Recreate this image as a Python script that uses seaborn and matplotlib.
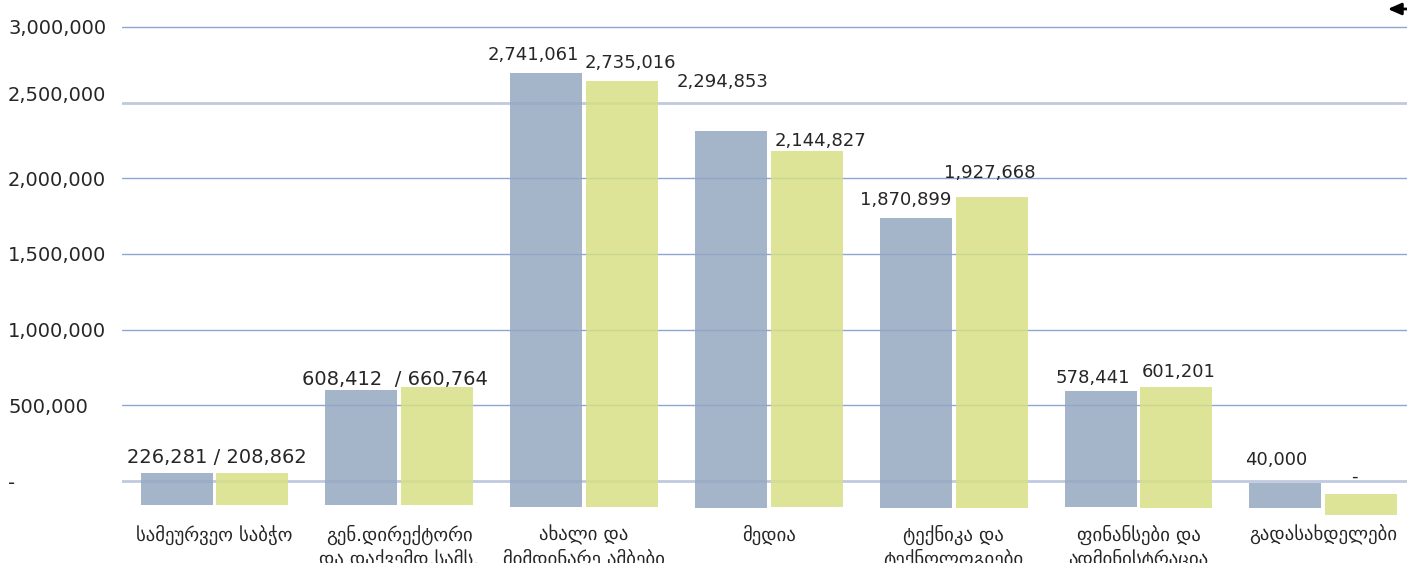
import matplotlib
matplotlib.use("Agg")
import matplotlib.pyplot as plt
import matplotlib.transforms as mtransforms
import pandas as pd
import seaborn as sns

# categorias (eje x)
categorias = [
    "სამეურვეო საბჭო",
    "გენ.დირექტორი\nდა დაქვემდ.სამს.",
    "ახალი და\nმიმდინარე ამბები",
    "მედია",
    "ტექნიკა და\nტექნოლოგიები",
    "ფინანსები და\nადმინისტრაცია",
    "გადასახდელები",
]

# valores de las etiquetas
valores_a = [226281, 608412, 2741061, 2294853, 1870899, 578441, 40000]
valores_b = [208862, 660764, 2735016, 2144827, 1927668, 601201, 0]

# altura visible de cada barra y su base
tope_a = [55000, 601000, 2698000, 2315000, 1738000, 595000, -13000]
tope_b = [55000, 621000, 2643000, 2182000, 1877000, 621000, -86000]
base_a = [-157000, -159000, -170000, -176000, -176000, -170000, -176000]
base_b = [-157000, -159000, -170000, -170000, -176000, -176000, -225000]

ticks_y = [0, 500000, 1000000, 1500000, 2000000, 2500000, 3000000]

# desplazamientos de etiquetas (pixeles: dx, dy sobre el tope de la barra)
offs_a = [None, None, (-13, 18), (-8, 49), (-10, 18), (-8, 13), (-9, 23)]
offs_b = [None, None, (8, 18), (14, 10), (-2, 24), (2, 15), (-7, 17)]
offs_par = [(2, 15), (-4, 8)]

COLOR_A = "#94a8c1"
COLOR_B = "#d7e085"

sns.set_style("white")
plt.rcParams["font.family"] = ["DejaVu Sans"]

df = pd.DataFrame({
    "categoria": categorias * 2,
    "serie": ["a"] * len(categorias) + ["b"] * len(categorias),
    "valor": tope_a + tope_b,
})

fig = plt.figure(figsize=(14.07, 5.63), dpi=100)
ax = fig.add_axes([122 / 1407, 0, 1285 / 1407, 1])

sns.barplot(
    data=df, x="categoria", y="valor", hue="serie",
    palette=[COLOR_A, COLOR_B], width=0.82, gap=0.05, saturation=1,
    legend=False, ax=ax, alpha=0.85, linewidth=0,
)

# mover la base de cada barra
for cont, tops, bases in zip(ax.containers, [tope_a, tope_b], [base_a, base_b]):
    for rect, t, b in zip(cont.patches, tops, bases):
        rect.set_y(b)
        rect.set_height(t - b)

ax.set_ylim(-541800, 3178300)
ax.set_xlim(-0.5, 6.453)

# grid
ax.set_yticks(ticks_y)
ax.set_yticklabels(["-"] + [f"{v:,}" for v in ticks_y[1:]])
ax.yaxis.grid(True, color="#8ea4d2", linewidth=1.0)
ax.set_axisbelow(True)
for v, line in zip(ticks_y, ax.get_ygridlines()):
    if v in (0, 2500000):
        line.set_color("#c0cade")
        line.set_linewidth(2.0)

ax.tick_params(axis="y", length=0, pad=82, labelsize=14)
for lab in ax.get_yticklabels():
    lab.set_horizontalalignment("left")
ax.get_yticklabels()[5].set_transform(
    ax.get_yticklabels()[5].get_transform()
    + mtransforms.ScaledTranslation(0, 9 / 100, fig.dpi_scale_trans)
)
ax.set_xticks([])
ax.set_xlabel("")
ax.set_ylabel("")
sns.despine(ax=ax, left=True, bottom=True)

# etiquetas de valores
bars_a = ax.containers[0].patches
bars_b = ax.containers[1].patches
for i in range(len(categorias)):
    ra, rb = bars_a[i], bars_b[i]
    if offs_a[i] is None:
        cx = (ra.get_x() + rb.get_x() + rb.get_width()) / 2
        top = max(tope_a[i], tope_b[i])
        sep = " / " if i == 0 else "  / "
        txt = f"{valores_a[i]:,}{sep}{valores_b[i]:,}"
        dx, dy = offs_par[i]
        ax.annotate(txt, xy=(cx, top), xytext=(dx * 0.72, dy * 0.72),
                    textcoords="offset points", ha="center", va="center",
                    fontsize=14)
        continue
    for r, val, top, off in ((ra, valores_a[i], tope_a[i], offs_a[i]),
                             (rb, valores_b[i], tope_b[i], offs_b[i])):
        txt = f"{val:,}" if val else "-"
        ax.annotate(txt, xy=(r.get_x() + r.get_width() / 2, top),
                    xytext=(off[0] * 0.72, off[1] * 0.72),
                    textcoords="offset points", ha="center", va="center",
                    fontsize=13)

# categorias bajo las barras
for i, cat in enumerate(categorias):
    ax.annotate(cat, xy=(i, 1 - 525 / 563), xycoords=("data", "axes fraction"),
                ha="center", va="top", fontsize=13.5, linespacing=1.2)

# flecha arriba a la derecha
ax.annotate("", xy=(1385, 563 - 9), xycoords="figure pixels",
            xytext=(1410, 563 - 9), textcoords="figure pixels",
            arrowprops=dict(arrowstyle="-|>,head_length=0.8,head_width=0.35",
                            color="black", lw=2))

fig.savefig("out.png", dpi=100)
